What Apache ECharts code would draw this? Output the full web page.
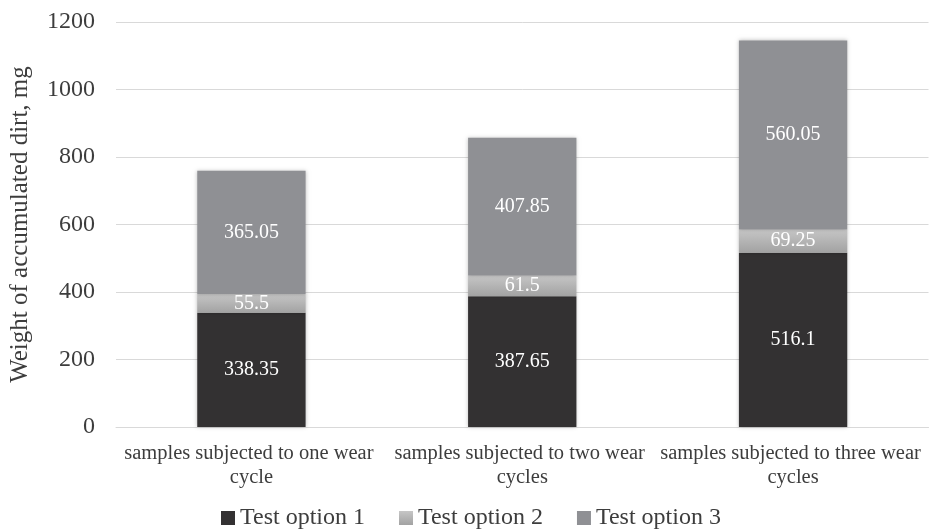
<!DOCTYPE html>
<html>
<head>
<meta charset="utf-8">
<style>
  html, body { margin: 0; padding: 0; background: #fff; }
  #chart { width: 929px; height: 531px; }
</style>
<script src="https://cdn.jsdelivr.net/npm/echarts@6/dist/echarts.min.js"></script>
</head>
<body>
<div id="chart"></div>
<script>
  // data
  const categories = [
    'samples subjected to one wear cycle',
    'samples subjected to two wear cycles',
    'samples subjected to three wear cycles'
  ];
  const seriesNames = ['Test option 1', 'Test option 2', 'Test option 3'];
  const option1 = [338.35, 387.65, 516.1];
  const option2 = [55.5, 61.5, 69.25];
  const option3 = [365.05, 407.85, 560.05];
  const yTicks = [0, 200, 400, 600, 800, 1000, 1200];

  const font = '"Liberation Serif", "Times New Roman", serif';
  const textColor = '#3d3d3d';

  const colors = [
    '#333132',
    new echarts.graphic.LinearGradient(0, 0, 0, 1, [
      { offset: 0, color: '#c6c6c6' },
      { offset: 1, color: '#a2a2a2' }
    ]),
    '#8f9094'
  ];

  function barSeries(name, data, color) {
    return {
      name: name,
      type: 'bar',
      stack: 'total',
      barWidth: '40%',
      data: data,
      itemStyle: {
        color: color,
        shadowBlur: 4,
        shadowColor: 'rgba(0,0,0,0.25)'
      },
      label: {
        show: true,
        position: 'inside',
        color: '#ffffff',
        fontFamily: font,
        fontSize: 20
      }
    };
  }

  const chart = echarts.init(document.getElementById('chart'));
  chart.setOption({
    animation: false,
    textStyle: { fontFamily: font },
    grid: {
      left: 116,
      right: 0,
      top: 22,
      bottom: 104
    },
    legend: {
      top: 501,
      left: 216,
      itemWidth: 14,
      itemHeight: 14,
      itemGap: 34,
      icon: 'rect',
      textStyle: { color: textColor, fontFamily: font, fontSize: 24 },
      data: seriesNames
    },
    xAxis: {
      type: 'category',
      data: categories,
      axisLine: { show: true, lineStyle: { color: '#d9d9d9' } },
      axisTick: { show: false },
      axisLabel: {
        color: textColor,
        fontFamily: font,
        fontSize: 20.5,
        interval: 0,
        width: 266,
        overflow: 'break',
        lineHeight: 24,
        margin: 15
      }
    },
    yAxis: {
      type: 'value',
      min: yTicks[0],
      max: yTicks[yTicks.length - 1],
      interval: 200,
      name: 'Weight of accumulated dirt, mg',
      nameLocation: 'middle',
      nameGap: 83,
      nameTextStyle: { color: textColor, fontFamily: font, fontSize: 25 },
      axisLine: { show: false },
      axisTick: { show: false },
      axisLabel: {
        color: textColor,
        fontFamily: font,
        fontSize: 24,
        margin: 21,
        formatter: function (v) { return String(v); }
      },
      splitLine: { lineStyle: { color: '#d9d9d9' } }
    },
    series: [
      barSeries(seriesNames[0], option1, colors[0]),
      barSeries(seriesNames[1], option2, colors[1]),
      barSeries(seriesNames[2], option3, colors[2])
    ]
  });
</script>
</body>
</html>
